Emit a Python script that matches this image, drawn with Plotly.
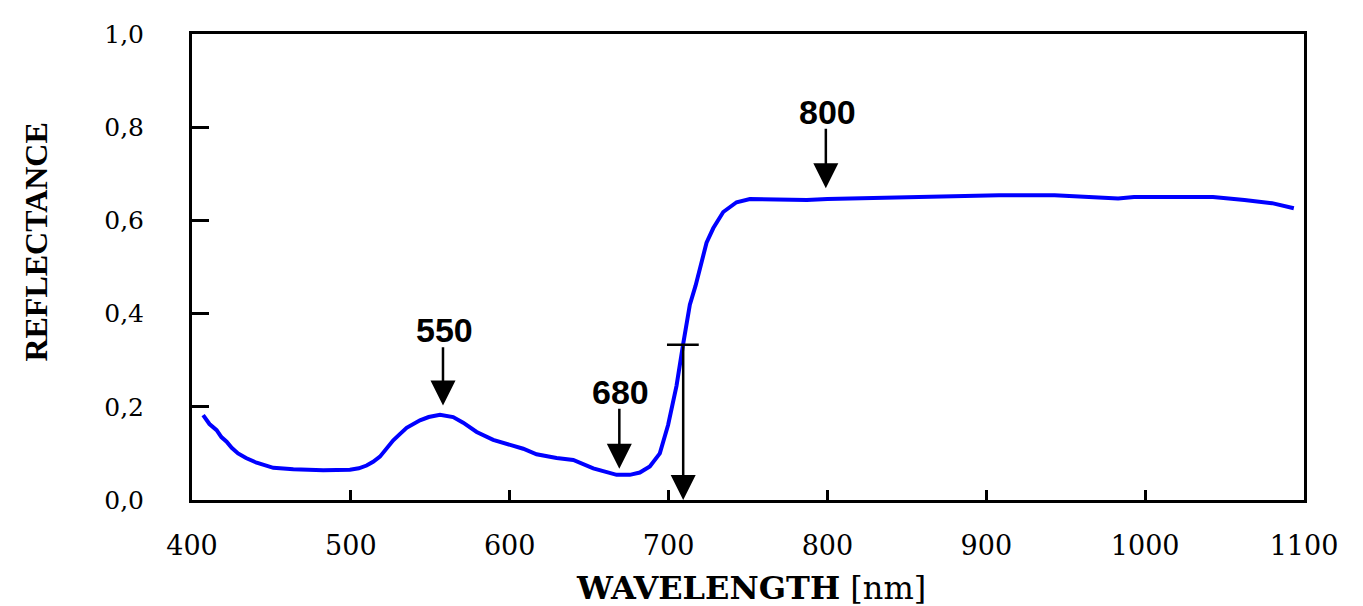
import plotly.graph_objects as go

# spectrum (nm, reflectance)
wavelength = [407, 411, 415.5, 418.5, 421.8, 425, 429, 434, 440.7, 451.2, 463.8, 482.6,
              499.4, 505, 509.9, 514, 518.3, 522, 526.7, 531, 535.1, 543.5, 549, 556.1,
              564.4, 570.7, 579.2, 589.6, 602.2, 608.5, 616.9, 629.5, 640, 646, 652.6,
              660, 667.3, 675.6, 681.9, 688.2, 694.5, 699.7, 705, 709.2, 713.4, 717,
              720.7, 723.9, 728.1, 734.4, 742.8, 751.2, 768, 787, 800, 814, 835, 866.5,
              893.6, 908, 943, 968, 983, 993, 1020, 1042.7, 1062.5, 1079.9, 1093.6]
reflectance = [0.182, 0.163, 0.150, 0.135, 0.125, 0.112, 0.100, 0.090, 0.080, 0.069, 0.066, 0.064,
               0.065, 0.068, 0.074, 0.082, 0.093, 0.108, 0.128, 0.142, 0.155, 0.171, 0.178, 0.183,
               0.178, 0.166, 0.146, 0.129, 0.116, 0.110, 0.098, 0.090, 0.086, 0.078, 0.068,
               0.061, 0.054, 0.054, 0.059, 0.072, 0.100, 0.161, 0.245, 0.335, 0.419, 0.460,
               0.510, 0.552, 0.583, 0.618, 0.639, 0.646, 0.645, 0.644, 0.646, 0.647, 0.650, 0.651,
               0.653, 0.654, 0.654, 0.650, 0.647, 0.650, 0.650, 0.650, 0.644, 0.637, 0.626]

# marked bands: label, arrow position, arrow tip, arrow tail, label height
band_labels = ["550", "680", "800"]
band_wl = [558, 669, 799]
band_tip = [0.203, 0.067, 0.669]
band_tail = [0.331, 0.199, 0.800]
band_text_y = [0.365, 0.231, 0.832]

# red edge marker
red_edge_wl = 709.2
red_edge_refl = 0.333
red_edge_cap = [699, 719]

x_ticks = [400, 500, 600, 700, 800, 900, 1000, 1100]
y_ticks = [0.0, 0.2, 0.4, 0.6, 0.8, 1.0]
y_ticktext = ["0,0", "0,2", "0,4", "0,6", "0,8", "1,0"]

fig = go.Figure()
fig.add_trace(go.Scatter(x=wavelength, y=reflectance, mode="lines",
                         line=dict(color="#0000ff", width=4), showlegend=False))

annotations = []
for lab, wl, tip, tail, ty in zip(band_labels, band_wl, band_tip, band_tail, band_text_y):
    annotations.append(dict(x=wl, y=tip, ax=wl, ay=tail, xref="x", yref="y",
                            axref="x", ayref="y", text="", showarrow=True,
                            arrowhead=2, arrowsize=2, arrowwidth=2.5,
                            arrowcolor="black", standoff=0))
    annotations.append(dict(x=wl + 1, y=ty, xref="x", yref="y", text="<b>" + lab + "</b>",
                            showarrow=False, xanchor="center", yanchor="middle",
                            font=dict(family="Liberation Sans", size=34, color="black")))

annotations.append(dict(x=red_edge_wl, y=0, ax=red_edge_wl, ay=red_edge_refl,
                        xref="x", yref="y", axref="x", ayref="y", text="",
                        showarrow=True, arrowhead=2, arrowsize=2, arrowwidth=2.5,
                        arrowcolor="black", standoff=0))

# axis titles
annotations.append(dict(x=0.503, y=-0.189, xref="paper", yref="paper",
                        xanchor="center", yanchor="middle",
                        text="<b>WAVELENGTH</b> [nm]", showarrow=False,
                        font=dict(family="DejaVu Serif", size=32, color="black")))
annotations.append(dict(x=-0.140, y=0.553, xref="paper", yref="paper",
                        xanchor="center", yanchor="middle",
                        text="<b>REFLECTANCE</b>", showarrow=False, textangle=-90,
                        font=dict(family="Liberation Serif", size=32, color="black")))

fig.add_shape(type="line", x0=red_edge_cap[0], x1=red_edge_cap[1],
              y0=red_edge_refl, y1=red_edge_refl, xref="x", yref="y",
              line=dict(color="black", width=2.5))

# page body adds 8px offset, so the figure is 8px smaller than the window
fig.update_layout(
    width=1355,
    height=598,
    margin=dict(l=184, r=59, t=15, b=106),
    plot_bgcolor="white",
    paper_bgcolor="white",
    annotations=annotations,
    xaxis=dict(
        range=[400, 1100],
        tickvals=x_ticks,
        ticktext=[str(v) for v in x_ticks],
        ticks="inside", ticklen=10, tickwidth=3, tickcolor="black",
        showline=True, linewidth=3, linecolor="black", mirror=True,
        showgrid=False, zeroline=False,
        ticklabelstandoff=20,
        tickfont=dict(family="DejaVu Serif", size=27, color="black"),
    ),
    yaxis=dict(
        range=[0, 1],
        tickvals=y_ticks,
        ticktext=y_ticktext,
        ticks="inside", ticklen=17, tickwidth=3, tickcolor="black",
        showline=True, linewidth=3, linecolor="black", mirror=True,
        showgrid=False, zeroline=False,
        ticklabelstandoff=40,
        tickfont=dict(family="DejaVu Serif", size=25, color="black"),
    ),
)

fig.write_html("out.html")
